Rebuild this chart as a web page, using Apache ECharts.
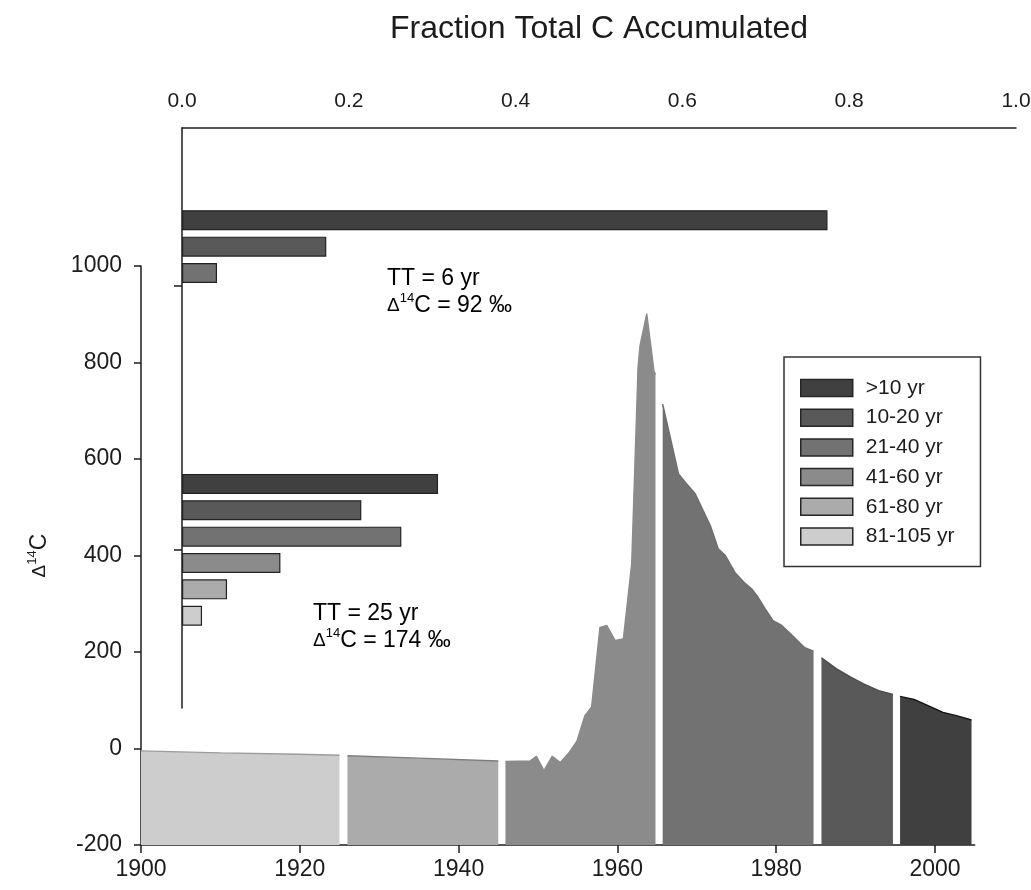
<!DOCTYPE html>
<html>
<head>
<meta charset="utf-8">
<script src="https://cdn.jsdelivr.net/npm/echarts@6/dist/echarts.min.js"></script>
<style>
  html, body { margin: 0; padding: 0; background: #ffffff; }
  #chart { width: 1031px; height: 890px; }
</style>
</head>
<body>
<div id="chart"></div>
<script>
// Age classes of the carbon pools (oldest fill is lightest)
const ageClasses = ['>10 yr', '10-20 yr', '21-40 yr', '41-60 yr', '61-80 yr', '81-105 yr'];

// Atmospheric Δ14C (‰) record, split into the age-class periods
const yrOver10 = [1995.6, 1997.5, 1999.4, 2001.0, 2002.7, 2004.6];
const c14Over10 = [108, 101, 87, 75, 68, 59];

const yr10to20 = [1985.7, 1987.6, 1989.5, 1991.0, 1992.9, 1994.7];
const c1410to20 = [188, 165, 147, 134, 120, 112];

const yr21to40 = [1965.7, 1967.7, 1968.7, 1969.8, 1970.8, 1971.7, 1972.7, 1973.6, 1974.8,
                  1975.9, 1976.9, 1977.7, 1978.6, 1979.6, 1980.7, 1981.8, 1983.6, 1984.7];
const c1421to40 = [714, 569, 549, 528, 493, 462, 414, 400, 365,
                   345, 331, 314, 290, 265, 255, 238, 209, 202];

const yr41to60 = [1945.9, 1949.0, 1949.8, 1950.75, 1951.8, 1952.8, 1953.8, 1954.9, 1955.9,
                  1956.75, 1957.8, 1958.65, 1959.7, 1960.75, 1961.8, 1962.6, 1962.85,
                  1963.7, 1964.6, 1964.8];
const c1441to60 = [-27, -26, -16, -46, -16, -29, -11, 15, 68,
                   86, 251, 255, 224, 227, 383, 790, 835,
                   901, 783, 775];

const yr61to80 = [1926, 1935, 1945];
const c1461to80 = [-15, -20, -26];

const yr81to105 = [1900, 1910, 1920, 1925];
const c1481to105 = [-5, -9, -12, -14];

// Fraction of total C accumulated in each age class
const fractionTT6 = [0.774, 0.173, 0.042];
const fractionTT25 = [0.307, 0.215, 0.263, 0.118, 0.054, 0.024];

// Axis ticks
const yearTicks = [1900, 1920, 1940, 1960, 1980, 2000];
const fractionTicks = [0.0, 0.2, 0.4, 0.6, 0.8, 1.0];

// Text
const topAxisTitle = 'Fraction Total C Accumulated';
const note6 = ['TT = 6 yr', '92'];
const note25 = ['TT = 25 yr', '174'];

// Styling
const fontFamily = "'Liberation Sans', Arial, Helvetica, sans-serif";
const ink = '#1c1c1c';
const classColors = ['#404040', '#595959', '#727272', '#8b8b8b', '#ababab', '#cdcdcd'];
const edgeColors  = ['#141414', '#4c4c4c', '#6e6e6e', '#8b8b8b', '#7e7e7e', '#9c9c9c'];

// Bar layout: slots along the inner category axis
const slotCount = 22;
const slotStartTT6 = 3;
const slotStartTT25 = 13;
const groupTickSlots = [6, 16];

const chart = echarts.init(document.getElementById('chart'), null, { renderer: 'canvas' });

const segmentYears = [yrOver10, yr10to20, yr21to40, yr41to60, yr61to80, yr81to105];
const segmentValues = [c14Over10, c1410to20, c1421to40, c1441to60, c1461to80, c1481to105];

const areaSeries = ageClasses.map((name, i) => ({
  type: 'line',
  name: name,
  xAxisIndex: 0,
  yAxisIndex: 0,
  data: segmentYears[i].map((y, k) => [y, segmentValues[i][k]]),
  showSymbol: false,
  symbol: 'none',
  smooth: false,
  color: classColors[i],
  lineStyle: { color: edgeColors[i], width: 1.4 },
  areaStyle: { color: classColors[i], opacity: 1, origin: 'start' },
  z: 2
}));

function placeBars(values, start) {
  const arr = new Array(slotCount).fill(null);
  values.forEach((v, i) => {
    arr[start + i] = { value: v, itemStyle: { color: classColors[i] } };
  });
  return arr;
}

const slotLabels = Array.from({ length: slotCount }, (_, i) => String(i));

const barCommon = {
  type: 'bar',
  xAxisIndex: 1,
  yAxisIndex: 1,
  barWidth: 20,
  barGap: '-100%',
  itemStyle: { borderColor: '#222222', borderWidth: 1.2 },
  z: 3
};

const axisLineStyle = { color: ink, width: 1.5 };

const rich = {
  m: { fontSize: 23, lineHeight: 27, fontFamily: fontFamily, color: ink },
  d: { fontSize: 19, lineHeight: 27, fontFamily: fontFamily, color: ink },
  s: { fontSize: 13, lineHeight: 13, fontFamily: fontFamily, color: ink, verticalAlign: 'top' }
};

function noteText(lines) {
  return '{m|' + lines[0] + '}\n{d|Δ}{s|14}{m|C = ' + lines[1] + ' ‰}';
}

const plain = v => String(v);

const option = {
  animation: false,
  backgroundColor: '#ffffff',
  textStyle: { fontFamily: fontFamily, color: ink },
  grid: [
    { left: 141, top: 266, width: 833.7, height: 579, containLabel: false, outerBoundsMode: 'none' },
    { left: 182, top: 128, width: 834, height: 580, containLabel: false, outerBoundsMode: 'none' }
  ],
  xAxis: [
    {
      gridIndex: 0, type: 'value', min: 1900, max: 2005, interval: 20,
      axisLine: { show: true, onZero: false, lineStyle: axisLineStyle },
      axisTick: { show: true, length: 8, customValues: yearTicks, lineStyle: axisLineStyle },
      axisLabel: { customValues: yearTicks, fontSize: 23, margin: 13, color: ink, formatter: plain },
      splitLine: { show: false }
    },
    {
      gridIndex: 1, type: 'value', position: 'top', min: 0, max: 1, interval: 0.2,
      axisLine: { show: true, onZero: false, lineStyle: axisLineStyle },
      axisTick: { show: false },
      axisLabel: {
        customValues: fractionTicks, fontSize: 21, margin: 16, color: ink,
        formatter: v => v.toFixed(1)
      },
      splitLine: { show: false },
      name: topAxisTitle, nameLocation: 'middle', nameGap: 83,
      nameTextStyle: { fontSize: 32, color: ink, fontFamily: fontFamily }
    }
  ],
  yAxis: [
    {
      gridIndex: 0, type: 'value', min: -200, max: 1000, interval: 200,
      axisLine: { show: true, onZero: false, lineStyle: axisLineStyle },
      axisTick: { show: true, length: 7, lineStyle: axisLineStyle },
      axisLabel: { fontSize: 23, margin: 19, color: ink, formatter: plain },
      splitLine: { show: false },
      name: '{d|Δ}{s|14}{m|C}', nameLocation: 'middle', nameGap: 88, nameRotate: 90,
      nameTextStyle: { rich: rich }
    },
    {
      gridIndex: 1, type: 'category', data: slotLabels, inverse: true,
      axisLine: { show: false }, axisTick: { show: false }, axisLabel: { show: false },
      splitLine: { show: false }
    },
    {
      gridIndex: 1, type: 'value', min: 0, max: slotCount, inverse: true, position: 'left',
      axisLine: { show: true, onZero: false, lineStyle: axisLineStyle },
      axisTick: { show: true, length: 8, customValues: groupTickSlots, lineStyle: axisLineStyle },
      axisLabel: { show: false },
      splitLine: { show: false }
    }
  ],
  legend: {
    orient: 'vertical',
    left: 784, top: 357,
    padding: [20, 26, 19, 16],
    borderColor: '#333333', borderWidth: 1.5,
    itemWidth: 52, itemHeight: 17, itemGap: 7.7,
    selectedMode: false,
    textStyle: { fontSize: 21, lineHeight: 22, color: ink, fontFamily: fontFamily, padding: [0, 0, 0, 8] },
    data: ageClasses.map((n, i) => ({
      name: n, icon: 'rect',
      itemStyle: { color: classColors[i], borderColor: '#262626', borderWidth: 1.5 }
    }))
  },
  graphic: [
    { type: 'text', x: 387, y: 265, z: 10, style: { text: noteText(note6), rich: rich, align: 'left', verticalAlign: 'top' } },
    { type: 'text', x: 313, y: 600, z: 10, style: { text: noteText(note25), rich: rich, align: 'left', verticalAlign: 'top' } }
  ],
  series: [
    ...areaSeries,
    Object.assign({ name: note6[0], data: placeBars(fractionTT6, slotStartTT6) }, barCommon),
    Object.assign({ name: note25[0], data: placeBars(fractionTT25, slotStartTT25) }, barCommon)
  ]
};

chart.setOption(option);
</script>
</body>
</html>
